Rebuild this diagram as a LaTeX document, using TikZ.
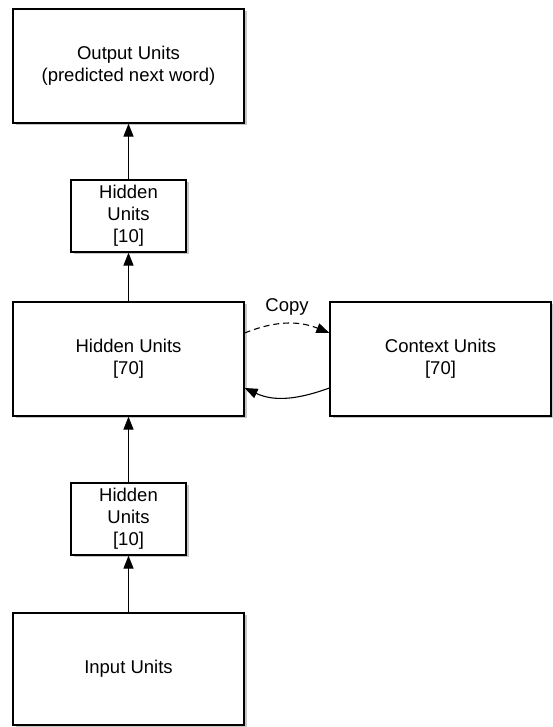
\documentclass[tikz,border=0pt]{standalone}
\usepackage{fontspec}
\setmainfont{Liberation Sans}
\usetikzlibrary{arrows.meta,shadows,calc}
\begin{document}
\begin{tikzpicture}[x=1pt,y=1pt,
  unitbox/.style={draw=black,line width=1.2pt,fill=white,align=center,
    font=\fontsize{18.5}{22}\selectfont,inner sep=0pt,
    drop shadow={shadow xshift=2.5pt,shadow yshift=-2.5pt,opacity=0.45,fill=gray}},
  bigbox/.style={unitbox,minimum width=231pt,minimum height=114pt},
  smallbox/.style={unitbox,minimum width=115pt,minimum height=72pt},
  conn/.style={line width=1.1pt,-{Triangle[length=13pt,width=10pt]}}]
\useasboundingbox (0,0) rectangle (552,727);
\node[bigbox] (out) at (128.5,661) {Output Units\\(predicted next word)};
\node[smallbox] (h10a) at (128.5,511) {Hidden\\Units\\{[10]}};
\node[bigbox] (h70) at (128.5,368) {Hidden Units\\{[70]}};
\node[unitbox,minimum width=221pt,minimum height=114pt] (ctx) at (440.5,368) {Context Units\\{[70]}};
\node[smallbox] (h10b) at (128.5,208) {Hidden\\Units\\{[10]}};
\node[bigbox,minimum height=112pt] (inp) at (128.5,58) {Input Units};
\draw[conn] (h10a) -- (out);
\draw[conn] (h70) -- (h10a);
\draw[conn] (h10b) -- (h70);
\draw[conn] (inp) -- (h10b);
\draw[conn,dashed,dash pattern=on 6pt off 4pt] ([yshift=26pt]h70.east) to[bend left=22]
  node[above=4pt,font=\fontsize{18.5}{22}\selectfont] (copy) {Copy} ([yshift=26pt]ctx.west);
\draw[conn] ([yshift=-29pt]ctx.west) to[out=200,in=-25] ([yshift=-29pt]h70.east);
\end{tikzpicture}
\end{document}
